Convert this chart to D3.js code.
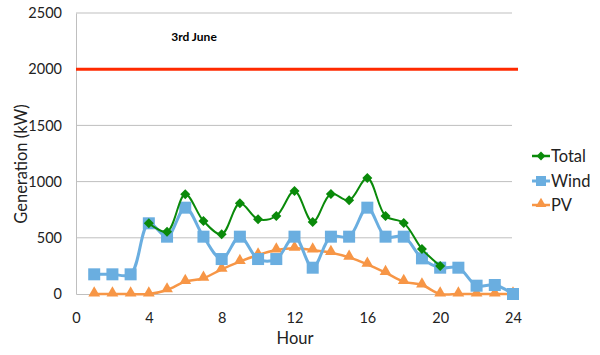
<!DOCTYPE html>
<html>
<head>
<meta charset="utf-8">
<script src="https://cdn.jsdelivr.net/npm/d3@7"></script>
<style>
body{margin:0;background:#fff;}
svg{display:block;font-family:Lato,"Open Sans",sans-serif;}
</style>
</head>
<body>
<svg id="chart" width="600" height="355"></svg>
<script>
const hours = d3.range(1, 25);
const windValues = [175,175,175,629,510,768,510,311,510,311,311,510,234,510,510,768,510,510,317,234,234,74,80,0];
const pvValues = [0,0,0,0,36,110,140,220,288,347,391,406,391,368,326,264,190,110,80,0,0,0,0,0];
const totalHours = d3.range(4, 21);
const totalValues = [629,554,887,650,531,807,665,694,916,640,890,834,1032,694,632,400,250];
const xTicks = [0,4,8,12,16,20,24];
const yTicks = [0,500,1000,1500,2000,2500];
const limitValue = 2000;
const titleText = "3rd June";
const seriesNames = ["Total","Wind","PV"];

const svg = d3.select("#chart");
const x = d3.scaleLinear().domain([0,24]).range([76,513]);
const y = d3.scaleLinear().domain([0,2500]).range([294,13]);

// gridlines
svg.append("g").selectAll("line").data(yTicks.filter(d=>d>0)).join("line")
  .attr("x1",76).attr("x2",512).attr("y1",d=>y(d)).attr("y2",d=>y(d))
  .attr("stroke","#bfbfbf").attr("stroke-width",1);

// axes
const yAxis = d3.axisLeft(y).tickValues(yTicks).tickFormat(d3.format("d")).tickSize(0).tickPadding(14);
const gy = svg.append("g").attr("transform","translate(76,0)").call(yAxis);
gy.select(".domain").attr("stroke","#bfbfbf");
gy.selectAll("text").attr("font-size",14.5).attr("fill","#222").attr("font-family","Lato, sans-serif");

const xAxis = d3.axisBottom(x).tickValues(xTicks).tickFormat(d3.format("d")).tickSize(0).tickPadding(19);
const gx = svg.append("g").attr("transform","translate(0,294)").call(xAxis);
gx.select(".domain").attr("stroke","#bfbfbf");
gx.selectAll("text").attr("font-size",14.5).attr("fill","#222").attr("font-family","Lato, sans-serif");

// red limit line
svg.append("line").attr("x1",76).attr("x2",518).attr("y1",y(limitValue)).attr("y2",y(limitValue))
  .attr("stroke","#ff2a00").attr("stroke-width",3);

// title
svg.append("text").attr("x",194).attr("y",41).attr("text-anchor","middle")
  .attr("font-size",12).attr("font-weight","bold").attr("fill","#000").text(titleText);

// axis labels
svg.append("text").attr("transform","translate(27,164) rotate(-90)").attr("text-anchor","middle")
  .attr("font-size",16.5).attr("fill","#222").text("Generation (kW)");
svg.append("text").attr("x",295).attr("y",344).attr("text-anchor","middle")
  .attr("font-size",16.5).attr("fill","#222").text("Hour");

const curve = d3.curveCatmullRom.alpha(0.5);
const colors = {Total:"#0a8a0a", Wind:"#6aaee0", PV:"#f79646"};

function line(){
  return d3.line().x(d=>x(d[0])).y(d=>y(d[1])).curve(curve);
}

const pvData = hours.map((h,i)=>[h,pvValues[i]]);
const windData = hours.map((h,i)=>[h,windValues[i]]);
const totalData = totalHours.map((h,i)=>[h,totalValues[i]]);

// PV
svg.append("path").datum(pvData).attr("d",line()).attr("fill","none").attr("stroke",colors.PV).attr("stroke-width",2.5);
svg.append("g").selectAll("path").data(pvData).join("path")
  .attr("transform",d=>`translate(${x(d[0])},${y(d[1])-1})`)
  .attr("d",d3.symbol(d3.symbolTriangle,60)).attr("fill",colors.PV);

// Wind
svg.append("path").datum(windData).attr("d",line()).attr("fill","none").attr("stroke",colors.Wind).attr("stroke-width",3);
svg.append("g").selectAll("rect").data(windData).join("rect")
  .attr("x",d=>x(d[0])-6).attr("y",d=>y(d[1])-6).attr("width",12).attr("height",12)
  .attr("fill",colors.Wind);

// Total
svg.append("path").datum(totalData).attr("d",line()).attr("fill","none").attr("stroke",colors.Total).attr("stroke-width",2);
svg.append("g").selectAll("path").data(totalData).join("path")
  .attr("transform",d=>`translate(${x(d[0])},${y(d[1])})`)
  .attr("d",d3.symbol(d3.symbolDiamond2,64)).attr("fill",colors.Total);

// legend
const leg = svg.append("g");
const legY = [156,181,205];
seriesNames.forEach((name,i)=>{
  const g = leg.append("g").attr("transform",`translate(532,${legY[i]})`);
  g.append("line").attr("x1",0).attr("x2",18).attr("y1",0).attr("y2",0)
    .attr("stroke",colors[name]).attr("stroke-width",name==="Wind"?3:2.5);
  if(name==="Total") g.append("path").attr("transform","translate(9,0)").attr("d",d3.symbol(d3.symbolDiamond2,50)).attr("fill",colors[name]);
  if(name==="Wind") g.append("rect").attr("x",4).attr("y",-5).attr("width",10).attr("height",10).attr("fill",colors[name]);
  if(name==="PV") g.append("path").attr("transform","translate(9,-1)").attr("d",d3.symbol(d3.symbolTriangle,50)).attr("fill",colors[name]);
  g.append("text").attr("x",19).attr("y",6).attr("font-size",16.5).attr("fill","#222").text(name);
});
</script>
</body>
</html>
